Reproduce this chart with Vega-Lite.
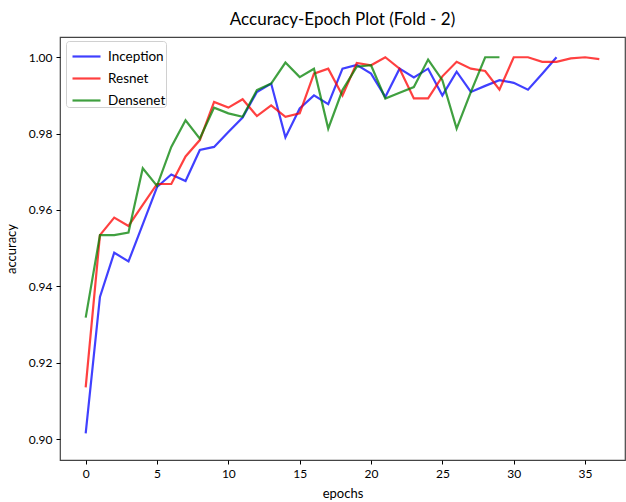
{
  "$schema": "https://vega.github.io/schema/vega-lite/v6.json",
  "width": 565,
  "height": 423,
  "autosize": {"type": "none"},
  "padding": {"left": 60, "top": 37, "right": 1, "bottom": 42},
  "background": "white",
  "title": {"text": "Accuracy-Epoch Plot (Fold - 2)", "fontSize": 17, "font": "Lato", "fontWeight": "normal", "offset": 8, "color": "#000"},
  "config": {
    "view": {"stroke": "#444", "strokeWidth": 1.2},
    "font": "Lato",
    "axis": {"grid": false, "domain": false, "tickColor": "#000", "tickSize": 4, "labelPadding": 4, "labelFontSize": 12, "labelColor": "#000", "titleFontSize": 13, "titleFontWeight": "normal", "titleColor": "#000", "labelFont": "Lato", "titleFont": "Lato"}
  },
  "data": {"values": [
    {"model": "Inception", "epoch": 0, "acc": 0.9015},
    {"model": "Inception", "epoch": 1, "acc": 0.9372},
    {"model": "Inception", "epoch": 2, "acc": 0.9488},
    {"model": "Inception", "epoch": 3, "acc": 0.9465},
    {"model": "Inception", "epoch": 4, "acc": 0.9562},
    {"model": "Inception", "epoch": 5, "acc": 0.966},
    {"model": "Inception", "epoch": 6, "acc": 0.9693},
    {"model": "Inception", "epoch": 7, "acc": 0.9676},
    {"model": "Inception", "epoch": 8, "acc": 0.9757},
    {"model": "Inception", "epoch": 9, "acc": 0.9765},
    {"model": "Inception", "epoch": 10, "acc": 0.9804},
    {"model": "Inception", "epoch": 11, "acc": 0.9842},
    {"model": "Inception", "epoch": 12, "acc": 0.9909},
    {"model": "Inception", "epoch": 13, "acc": 0.9931},
    {"model": "Inception", "epoch": 14, "acc": 0.979},
    {"model": "Inception", "epoch": 15, "acc": 0.9866},
    {"model": "Inception", "epoch": 16, "acc": 0.99},
    {"model": "Inception", "epoch": 17, "acc": 0.9877},
    {"model": "Inception", "epoch": 18, "acc": 0.997},
    {"model": "Inception", "epoch": 19, "acc": 0.998},
    {"model": "Inception", "epoch": 20, "acc": 0.9957},
    {"model": "Inception", "epoch": 21, "acc": 0.9896},
    {"model": "Inception", "epoch": 22, "acc": 0.997},
    {"model": "Inception", "epoch": 23, "acc": 0.9947},
    {"model": "Inception", "epoch": 24, "acc": 0.997},
    {"model": "Inception", "epoch": 25, "acc": 0.99},
    {"model": "Inception", "epoch": 26, "acc": 0.9962},
    {"model": "Inception", "epoch": 27, "acc": 0.9909},
    {"model": "Inception", "epoch": 28, "acc": 0.9925},
    {"model": "Inception", "epoch": 29, "acc": 0.994},
    {"model": "Inception", "epoch": 30, "acc": 0.9933},
    {"model": "Inception", "epoch": 31, "acc": 0.9915},
    {"model": "Inception", "epoch": 32, "acc": 0.9957},
    {"model": "Inception", "epoch": 33, "acc": 1.0},
    {"model": "Resnet", "epoch": 0, "acc": 0.9135},
    {"model": "Resnet", "epoch": 1, "acc": 0.9534},
    {"model": "Resnet", "epoch": 2, "acc": 0.958},
    {"model": "Resnet", "epoch": 3, "acc": 0.9558},
    {"model": "Resnet", "epoch": 4, "acc": 0.9613},
    {"model": "Resnet", "epoch": 5, "acc": 0.9668},
    {"model": "Resnet", "epoch": 6, "acc": 0.9668},
    {"model": "Resnet", "epoch": 7, "acc": 0.974},
    {"model": "Resnet", "epoch": 8, "acc": 0.9783},
    {"model": "Resnet", "epoch": 9, "acc": 0.9883},
    {"model": "Resnet", "epoch": 10, "acc": 0.9868},
    {"model": "Resnet", "epoch": 11, "acc": 0.989},
    {"model": "Resnet", "epoch": 12, "acc": 0.9846},
    {"model": "Resnet", "epoch": 13, "acc": 0.9874},
    {"model": "Resnet", "epoch": 14, "acc": 0.9844},
    {"model": "Resnet", "epoch": 15, "acc": 0.9853},
    {"model": "Resnet", "epoch": 16, "acc": 0.9957},
    {"model": "Resnet", "epoch": 17, "acc": 0.997},
    {"model": "Resnet", "epoch": 18, "acc": 0.99},
    {"model": "Resnet", "epoch": 19, "acc": 0.9985},
    {"model": "Resnet", "epoch": 20, "acc": 0.9979},
    {"model": "Resnet", "epoch": 21, "acc": 1.0},
    {"model": "Resnet", "epoch": 22, "acc": 0.997},
    {"model": "Resnet", "epoch": 23, "acc": 0.9892},
    {"model": "Resnet", "epoch": 24, "acc": 0.9892},
    {"model": "Resnet", "epoch": 25, "acc": 0.995},
    {"model": "Resnet", "epoch": 26, "acc": 0.9988},
    {"model": "Resnet", "epoch": 27, "acc": 0.997},
    {"model": "Resnet", "epoch": 28, "acc": 0.9964},
    {"model": "Resnet", "epoch": 29, "acc": 0.9915},
    {"model": "Resnet", "epoch": 30, "acc": 1.0},
    {"model": "Resnet", "epoch": 31, "acc": 1.0},
    {"model": "Resnet", "epoch": 32, "acc": 0.9988},
    {"model": "Resnet", "epoch": 33, "acc": 0.9988},
    {"model": "Resnet", "epoch": 34, "acc": 0.9997},
    {"model": "Resnet", "epoch": 35, "acc": 1.0},
    {"model": "Resnet", "epoch": 36, "acc": 0.9995},
    {"model": "Densenet", "epoch": 0, "acc": 0.9318},
    {"model": "Densenet", "epoch": 1, "acc": 0.9534},
    {"model": "Densenet", "epoch": 2, "acc": 0.9534},
    {"model": "Densenet", "epoch": 3, "acc": 0.9541},
    {"model": "Densenet", "epoch": 4, "acc": 0.9709},
    {"model": "Densenet", "epoch": 5, "acc": 0.9663},
    {"model": "Densenet", "epoch": 6, "acc": 0.9765},
    {"model": "Densenet", "epoch": 7, "acc": 0.9835},
    {"model": "Densenet", "epoch": 8, "acc": 0.9787},
    {"model": "Densenet", "epoch": 9, "acc": 0.9868},
    {"model": "Densenet", "epoch": 10, "acc": 0.9853},
    {"model": "Densenet", "epoch": 11, "acc": 0.9844},
    {"model": "Densenet", "epoch": 12, "acc": 0.9914},
    {"model": "Densenet", "epoch": 13, "acc": 0.9931},
    {"model": "Densenet", "epoch": 14, "acc": 0.9986},
    {"model": "Densenet", "epoch": 15, "acc": 0.9948},
    {"model": "Densenet", "epoch": 16, "acc": 0.997},
    {"model": "Densenet", "epoch": 17, "acc": 0.9813},
    {"model": "Densenet", "epoch": 18, "acc": 0.9914},
    {"model": "Densenet", "epoch": 19, "acc": 0.9975},
    {"model": "Densenet", "epoch": 20, "acc": 0.9979},
    {"model": "Densenet", "epoch": 21, "acc": 0.9892},
    {"model": "Densenet", "epoch": 22, "acc": 0.9907},
    {"model": "Densenet", "epoch": 23, "acc": 0.9922},
    {"model": "Densenet", "epoch": 24, "acc": 0.9994},
    {"model": "Densenet", "epoch": 25, "acc": 0.994},
    {"model": "Densenet", "epoch": 26, "acc": 0.9813},
    {"model": "Densenet", "epoch": 27, "acc": 0.9909},
    {"model": "Densenet", "epoch": 28, "acc": 1.0},
    {"model": "Densenet", "epoch": 29, "acc": 1.0}
  ]},
  "mark": {"type": "line", "strokeWidth": 2.2, "strokeOpacity": 0.75, "clip": true},
  "encoding": {
    "x": {"field": "epoch", "type": "quantitative", "title": "epochs",
      "scale": {"domain": [-1.8, 37.8], "nice": false, "zero": false},
      "axis": {"values": [0, 5, 10, 15, 20, 25, 30, 35], "titlePadding": 8}},
    "y": {"field": "acc", "type": "quantitative", "title": "accuracy",
      "scale": {"domain": [0.8945, 1.0053], "nice": false, "zero": false},
      "axis": {"values": [0.9, 0.92, 0.94, 0.96, 0.98, 1.0], "format": ".2f", "titlePadding": 10}},
    "color": {"field": "model", "type": "nominal",
      "scale": {"domain": ["Inception", "Resnet", "Densenet"], "range": ["#0000ff", "#ff0000", "#008000"]},
      "legend": {"title": null, "orient": "none", "legendX": 6, "legendY": 4, "symbolType": "stroke", "symbolSize": 784, "symbolStrokeWidth": 2.2, "symbolOpacity": 0.75, "labelFontSize": 13.5, "labelColor": "#000", "rowPadding": -5, "padding": 0, "strokeColor": "#d0d0d0", "fillColor": "white", "cornerRadius": 3, "labelOffset": 6, "symbolOffset": 5}
    },
    "order": {"field": "epoch"}
  }
}
